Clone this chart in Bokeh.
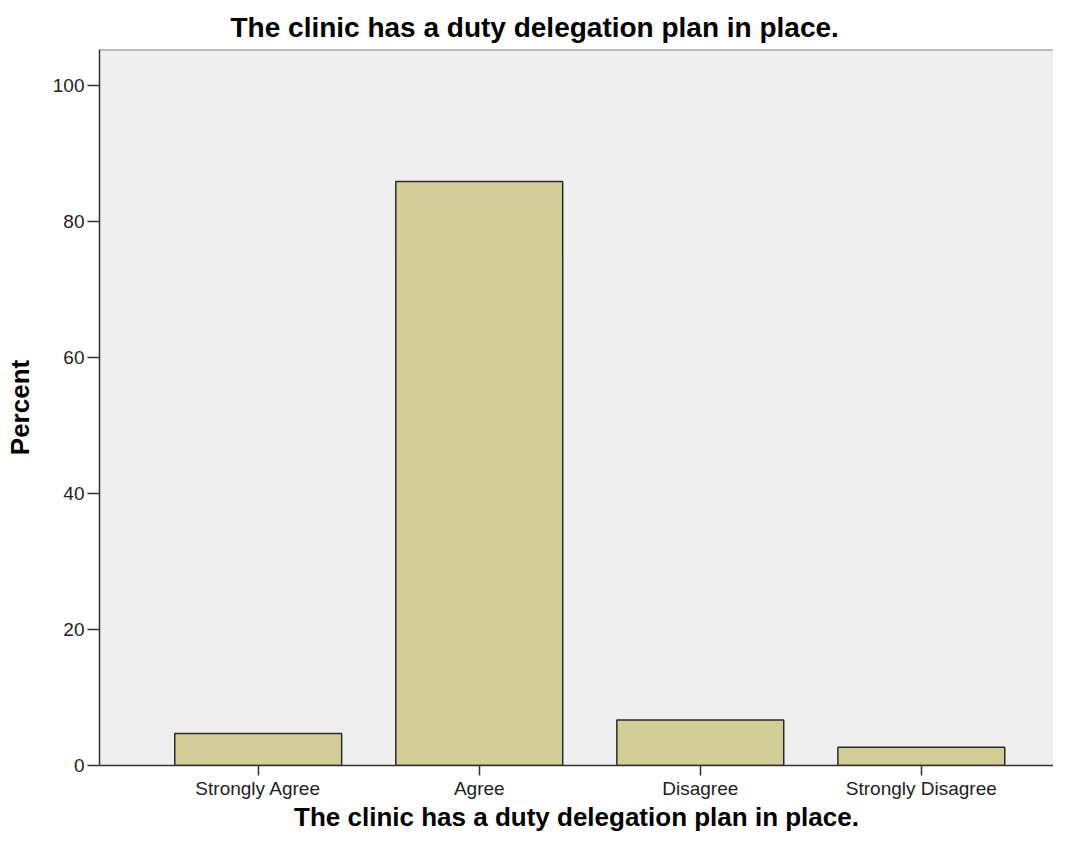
from bokeh.plotting import figure
from bokeh.models import Range1d, FixedTicker, Span, ColumnDataSource
from bokeh.embed import file_html
from bokeh.resources import INLINE

# ---- data ----
categories = ["Strongly Agree", "Agree", "Disagree", "Strongly Disagree"]
percent = [4.7, 85.9, 6.7, 2.7]
y_ticks = [0, 20, 40, 60, 80, 100]
title_text = "The clinic has a duty delegation plan in place."
x_label = "The clinic has a duty delegation plan in place."
y_label = "Percent"

x_pos = list(range(len(categories)))
src = ColumnDataSource(dict(x=x_pos, top=percent, cat=categories))

FONT = "Liberation Sans"
Y_MAX = 105.3

p = figure(width=1053, height=834, output_backend="svg", toolbar_location=None,
           x_range=Range1d(-0.718, 3.598), y_range=Range1d(0, Y_MAX),
           min_border_left=99, min_border_right=0, min_border_top=49,
           min_border_bottom=66, title=title_text)

p.background_fill_color = "#EFEFEF"
p.border_fill_color = "white"
p.outline_line_color = None
p.xgrid.visible = False
p.ygrid.visible = False

p.title.text_font = FONT
p.title.text_font_size = "28px"
p.title.text_font_style = "bold"
p.title.text_color = "#000000"
p.title.align = "left"
p.title.offset = 131
p.title.standoff = 14

p.vbar(x="x", top="top", width=0.755, source=src,
       fill_color="#D3CE98", line_color="#2b2b2b", line_width=1.5)

p.add_layout(Span(location=Y_MAX, dimension="width", line_color="#8a8a8a", line_width=2))

xa = p.xaxis[0]
xa.ticker = FixedTicker(ticks=x_pos)
xa.major_label_overrides = {i: c for i, c in zip(x_pos, categories)}
xa.minor_tick_line_color = None
xa.major_tick_in = 0
xa.major_tick_out = 10
xa.axis_line_color = "#333333"
xa.axis_line_width = 1.5
xa.major_tick_line_color = "#333333"
xa.major_tick_line_width = 1.5
xa.major_label_text_font = FONT
xa.major_label_text_font_size = "19px"
xa.major_label_text_color = "#222222"
xa.major_label_standoff = 2
xa.axis_label = x_label
xa.axis_label_text_font = FONT
xa.axis_label_text_font_size = "26px"
xa.axis_label_text_font_style = "bold"
xa.axis_label_text_color = "#000000"
xa.axis_label_standoff = 0

ya = p.yaxis[0]
ya.ticker = FixedTicker(ticks=y_ticks)
ya.minor_tick_line_color = None
ya.major_tick_in = 0
ya.major_tick_out = 12
ya.axis_line_color = "#333333"
ya.axis_line_width = 1.5
ya.major_tick_line_color = "#333333"
ya.major_tick_line_width = 1.5
ya.major_label_text_font = FONT
ya.major_label_text_font_size = "19px"
ya.major_label_text_color = "#222222"
ya.major_label_standoff = 3
ya.axis_label = y_label
ya.axis_label_text_font = FONT
ya.axis_label_text_font_size = "26px"
ya.axis_label_text_font_style = "bold"
ya.axis_label_text_color = "#000000"
ya.axis_label_standoff = 15

open("out.html", "w").write(file_html(p, INLINE))
